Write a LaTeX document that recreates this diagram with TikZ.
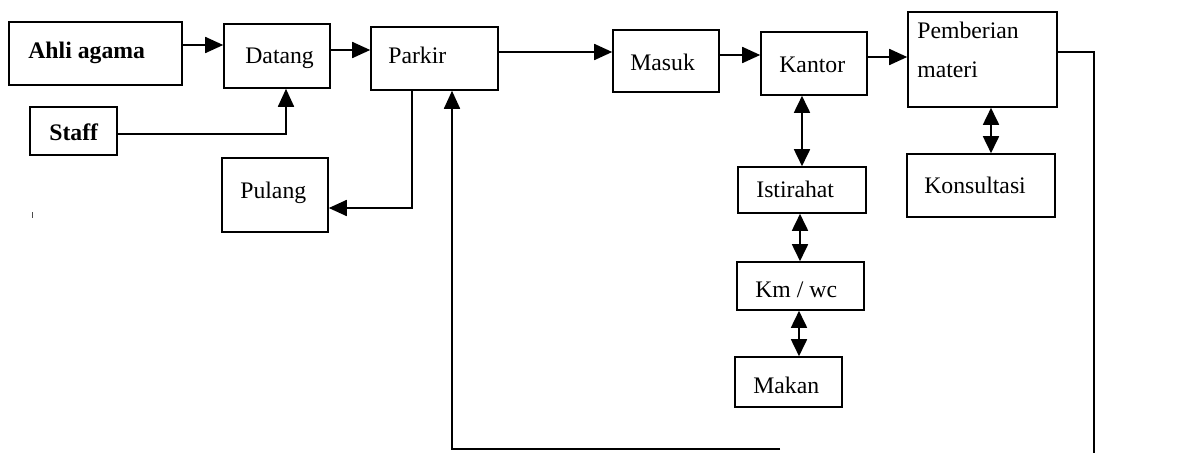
\documentclass[tikz,border=0pt]{standalone}
\usepackage{fontspec}
\setmainfont{Liberation Serif}
\usetikzlibrary{fit,arrows.meta}
\begin{document}
\begin{tikzpicture}[x=0.02cm,y=-0.02cm,
  box/.style={draw=black,line width=0.9pt,inner sep=0pt,rectangle},
  txt/.style={anchor=base west,inner sep=0pt,font=\fontsize{13.5}{16}\selectfont},
  btxt/.style={txt,font=\fontsize{13.5}{16}\selectfont\bfseries},
  link/.style={draw=black,line width=1pt},
  arr/.style={link,-{Triangle[length=0.36cm,width=0.32cm]}},
  darr/.style={link,{Triangle[length=0.34cm,width=0.32cm]}-{Triangle[length=0.34cm,width=0.32cm]}}]
\useasboundingbox (0,0) rectangle (1179,453);

% boxes
\node[box,fit={(9,22) (182,85)}] (ahli) {};
\node[box,fit={(224,24) (330,88)}] (datang) {};
\node[box,fit={(371,27) (498,90)}] (parkir) {};
\node[box,fit={(30,107) (117,155)}] (staff) {};
\node[box,fit={(222,158) (328,232)}] (pulang) {};
\node[box,fit={(613,30) (719,92)}] (masuk) {};
\node[box,fit={(761,32) (867,95)}] (kantor) {};
\node[box,fit={(908,12) (1057,107)}] (pemberian) {};
\node[box,fit={(738,167) (866,213)}] (istirahat) {};
\node[box,fit={(907,154) (1055,217)}] (konsultasi) {};
\node[box,fit={(737,262) (864,310)}] (kmwc) {};
\node[box,fit={(735,357) (842,407)}] (makan) {};

% labels
\node[btxt] (ahli-t) at (28,58) {Ahli agama};
\node[btxt] (staff-t) at (49,140) {Staff};
\node[txt] (datang-t) at (245,63) {Datang};
\node[txt] (parkir-t) at (388,63) {Parkir};
\node[txt] (pulang-t) at (240,198) {Pulang};
\node[txt] (masuk-t) at (630,70) {Masuk};
\node[txt] (kantor-t) at (779,72) {Kantor};
\node[txt] (pemberian-t1) at (917,38) {Pemberian};
\node[txt] (pemberian-t2) at (917,77) {materi};
\node[txt] (istirahat-t) at (756,197) {Istirahat};
\node[txt] (konsultasi-t) at (924,193) {Konsultasi};
\node[txt] (kmwc-t) at (755,297) {Km / wc};
\node[txt] (makan-t) at (753,393) {Makan};

% main flow
\draw[arr] (ahli.east |- 0,45) -- (datang.west |- 0,45);
\draw[arr] (datang.east |- 0,50) -- (parkir.west |- 0,50);
\draw[arr] (parkir.east |- 0,52) -- (masuk.west |- 0,52);
\draw[arr] (masuk.east |- 0,55) -- (kantor.west |- 0,55);
\draw[arr] (kantor.east |- 0,57) -- (pemberian.west |- 0,57);
\draw[arr] (staff.east |- 0,134) -| (datang.south -| 286,0);
\draw[arr] (parkir.south -| 412,0) |- (pulang.east |- 0,208);

% two-way links
\draw[darr] (kantor.south -| 802,0) -- (istirahat.north -| 802,0);
\draw[darr] (istirahat.south -| 800,0) -- (kmwc.north -| 800,0);
\draw[darr] (kmwc.south -| 799,0) -- (makan.north -| 799,0);
\draw[darr] (pemberian.south -| 991,0) -- (konsultasi.north -| 991,0);

% return path back to parking
\coordinate (retA) at (1094,453);
\coordinate (retB) at (780,449);
\draw[link] (pemberian.east |- 0,52) -| (retA);
\draw[arr] (retB) -| (parkir.south -| 452,0);

% small tick
\draw[black!70,line width=0.5pt] (32,212) -- (32,218);
\end{tikzpicture}
\end{document}
